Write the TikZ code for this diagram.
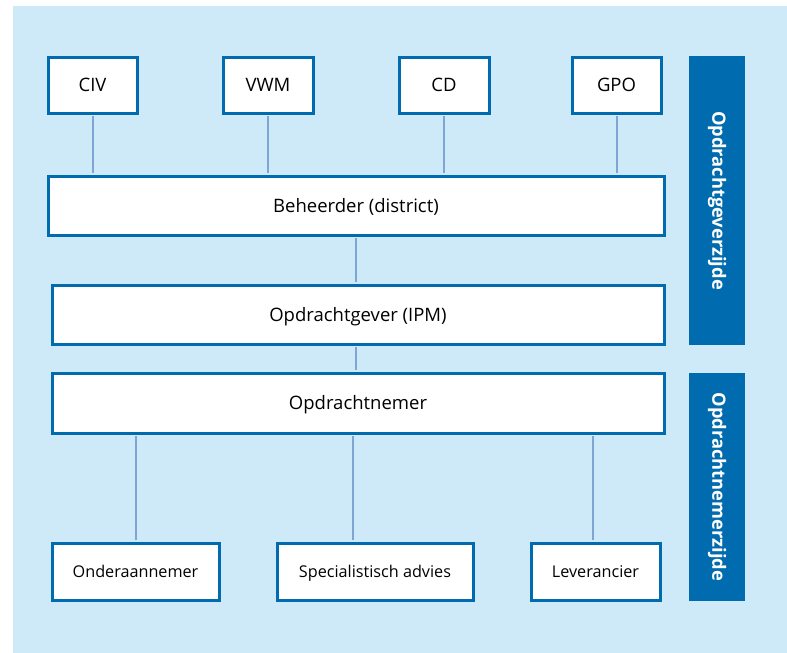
\documentclass[tikz,border=0pt]{standalone}
\usepackage{fontspec}
\setmainfont{Open Sans}
\usetikzlibrary{positioning,calc}

\definecolor{rwsblue}{RGB}{0,107,175}
\definecolor{linkblue}{RGB}{125,166,212}
\definecolor{paleblue}{RGB}{206,233,247}

\begin{document}
\begin{tikzpicture}[x=1pt,y=-1pt,
    unitbox/.style={draw=rwsblue,line width=3pt,fill=white,inner sep=0pt,
      text height=13.2pt,text depth=0pt,font=\fontsize{18.5}{22}\selectfont},
    smallbox/.style={unitbox,text height=11.6pt,font=\fontsize{16.2}{19}\selectfont},
    sidebar/.style={fill=rwsblue,inner sep=0pt,minimum width=56pt},
    link/.style={draw=linkblue,line width=2pt,shorten <=1.5pt,shorten >=1.5pt}]
  \useasboundingbox (0,0) rectangle (787,653);
  \fill[paleblue] (13,6) rectangle (787,653);

  % bovenste rij
  \node[unitbox,minimum width=89pt,minimum height=56pt] (civ) at (92.5,85) {CIV};
  \node[unitbox,minimum width=90pt,minimum height=56pt] (vwm) at (268,85) {VWM};
  \node[unitbox,minimum width=90pt,minimum height=56pt] (cd) at (444,85) {CD};
  \node[unitbox,minimum width=89pt,minimum height=56pt] (gpo) at (616.5,85) {GPO};

  % middenlagen
  \node[unitbox,minimum width=616pt,minimum height=59pt] (beh) at (356,205.5) {Beheerder (district)};
  \node[unitbox,minimum width=612pt,minimum height=59pt] (opg) at (358,314.5) {Opdrachtgever (IPM)};
  \node[unitbox,minimum width=612pt,minimum height=60pt] (opn) at (358,403) {Opdrachtnemer};

  % onderste rij
  \node[smallbox,minimum width=167pt,minimum height=57pt] (ond) at (135.5,571.5) {Onderaannemer};
  \node[smallbox,minimum width=196pt,minimum height=57pt] (spec) at (375,571.5) {Specialistisch advies};
  \node[smallbox,minimum width=129pt,minimum height=57pt] (lev) at (595.5,571.5) {Leverancier};

  % zijbalken
  \node[sidebar,minimum height=289pt] (gever) at (717,200.5)
    {\rotatebox{-90}{\color{white}\bfseries\fontsize{18.3}{22}\selectfont Opdrachtgeverzijde}};
  \node[sidebar,minimum height=228pt] (nemer) at (717,487)
    {\rotatebox{-90}{\color{white}\bfseries\fontsize{18.3}{22}\selectfont Opdrachtnemerzijde}};

  % verbindingen
  \foreach \n in {civ,vwm,cd,gpo}
    \draw[link] (\n.south) -- (\n.south |- beh.north);
  \draw[link] (beh.south) -- (beh.south |- opg.north);
  \draw[link] (beh.south |- opg.south) -- (beh.south |- opn.north);
  \draw[link] (ond.north) -- (ond.north |- opn.south);
  \draw[link] ([xshift=-22pt]spec.north) -- ([xshift=-22pt]spec.north |- opn.south);
  \draw[link] ([xshift=-2.5pt]lev.north) -- ([xshift=-2.5pt]lev.north |- opn.south);
\end{tikzpicture}
\end{document}
